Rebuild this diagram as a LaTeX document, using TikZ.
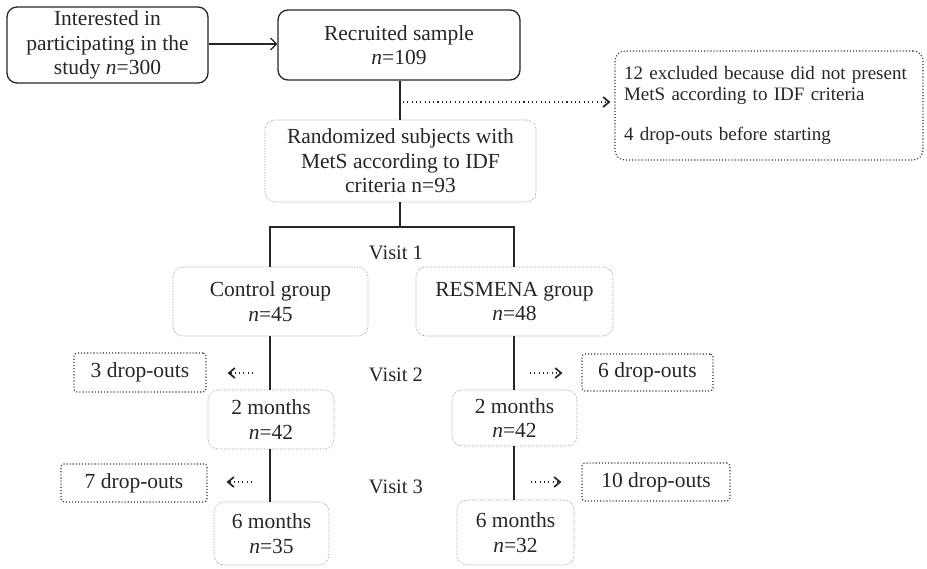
\documentclass[tikz,border=0pt]{standalone}
\usepackage{fontspec}
\setmainfont{Liberation Serif}
\usetikzlibrary{arrows.meta}

\tikzset{
  base/.style={align=center, inner sep=0pt, font=\fontsize{21.5}{24.5}\selectfont, text=black!85},
  solidbox/.style={base, draw=black!85, line width=1.3pt, rounded corners=10pt},
  softbox/.style={base, draw=black!45, densely dotted, line width=0.6pt, rounded corners=10pt},
  dropbox/.style={base, draw=black!80, dotted, line width=1.1pt, rounded corners=3pt},
  stem/.style={draw=black!85, line width=1.2pt},
  mainarrow/.style={stem, -{Straight Barb[length=6pt,width=12pt,line width=1.2pt]}},
  dotarrow/.style={draw=black!85, line width=1.1pt, dash pattern=on 1.1pt off 3.2pt,
    -{Straight Barb[length=6pt,width=10pt,line width=1.7pt,sep=1pt]}},
  visit/.style={base, font=\fontsize{20.5}{24}\selectfont}
}

\begin{document}
\begin{tikzpicture}[x=1pt, y=-1pt]
\useasboundingbox (0,0) rectangle (927,568);

% top row
\node[solidbox, minimum width=201pt, minimum height=76pt] (A) at (107.5,45)
  {Interested in\\participating in the\\study \textit{n}=300};
\node[solidbox, minimum width=242pt, minimum height=70pt] (B) at (399,45)
  {Recruited sample\\\textit{n}=109};
\draw[mainarrow] (A.east |- 0,44) -- (B.west |- 0,44);

% exclusions
\node[dropbox, rounded corners=10pt, minimum width=308pt, minimum height=109pt,
      text width=290pt, align=left, font=\fontsize{19}{21}\selectfont] (X) at (769,105.5)
  {12 excluded because did not present\\MetS according to IDF criteria\\[19pt]4 drop-outs before starting};

% randomisation
\node[softbox, minimum width=271pt, minimum height=82pt] (R) at (400.5,161)
  {Randomized subjects with\\MetS according to IDF\\criteria n=93};
\draw[stem] (B.south -| 400,0) -- (R.north -| 400,0);
\coordinate (ex) at (403,102);
\draw[dotarrow, shorten >=3pt] (ex) -- (X.west |- ex);

% groups
\node[softbox, minimum width=195pt, minimum height=69pt] (C) at (270.5,301.5)
  {Control group\\\textit{n}=45};
\node[softbox, minimum width=197pt, minimum height=69pt] (S) at (514.5,301.5)
  {RESMENA group\\\textit{n}=48};
\coordinate (bl) at (270,227);
\coordinate (br) at (514,227);
\draw[stem] (R.south -| 400,0) -- (400,227);
\draw[stem] (C.north -| bl) -- (bl) -- (br) -- (C.north -| br);
\node[visit] (v1) at (396,253) {Visit 1};

% control arm
\node[softbox, minimum width=126pt, minimum height=59pt] (L2) at (271,419.5)
  {2 months\\\textit{n}=42};
\node[softbox, minimum width=115pt, minimum height=63pt] (L6) at (271.5,533.5)
  {6 months\\\textit{n}=35};
\node[dropbox, minimum width=132pt, minimum height=39pt] (D3) at (140,372.5) {3 drop-outs};
\node[dropbox, minimum width=146pt, minimum height=38pt] (D7) at (134,483) {7 drop-outs};
\draw[stem] (C.south -| bl) -- (L2.north -| bl);
\draw[stem] (L2.south -| bl) -- (L6.north -| bl);
\coordinate (a3) at (253,373);
\coordinate (a7) at (252,482);
\draw[dotarrow, shorten >=20pt] (a3) -- (D3.east |- a3);
\draw[dotarrow, shorten >=18pt] (a7) -- (D7.east |- a7);

% RESMENA arm
\node[softbox, minimum width=125pt, minimum height=56pt] (R2) at (514.5,418)
  {2 months\\\textit{n}=42};
\node[softbox, minimum width=117pt, minimum height=65pt] (R6) at (515.5,532.5)
  {6 months\\\textit{n}=32};
\node[dropbox, minimum width=131pt, minimum height=37pt] (D6) at (647.5,372.5) {6 drop-outs};
\node[dropbox, minimum width=148pt, minimum height=38pt] (D10) at (656,482) {10 drop-outs};
\draw[stem] (S.south -| br) -- (R2.north -| br);
\draw[stem] (R2.south -| br) -- (R6.north -| br);
\coordinate (a6) at (530,373);
\coordinate (a10) at (531,482);
\draw[dotarrow, shorten >=18pt] (a6) -- (D6.west |- a6);
\draw[dotarrow, shorten >=19pt] (a10) -- (D10.west |- a10);

% visit labels
\node[visit] (v2) at (396,375) {Visit 2};
\node[visit] (v3) at (396,487) {Visit 3};
\end{tikzpicture}
\end{document}
